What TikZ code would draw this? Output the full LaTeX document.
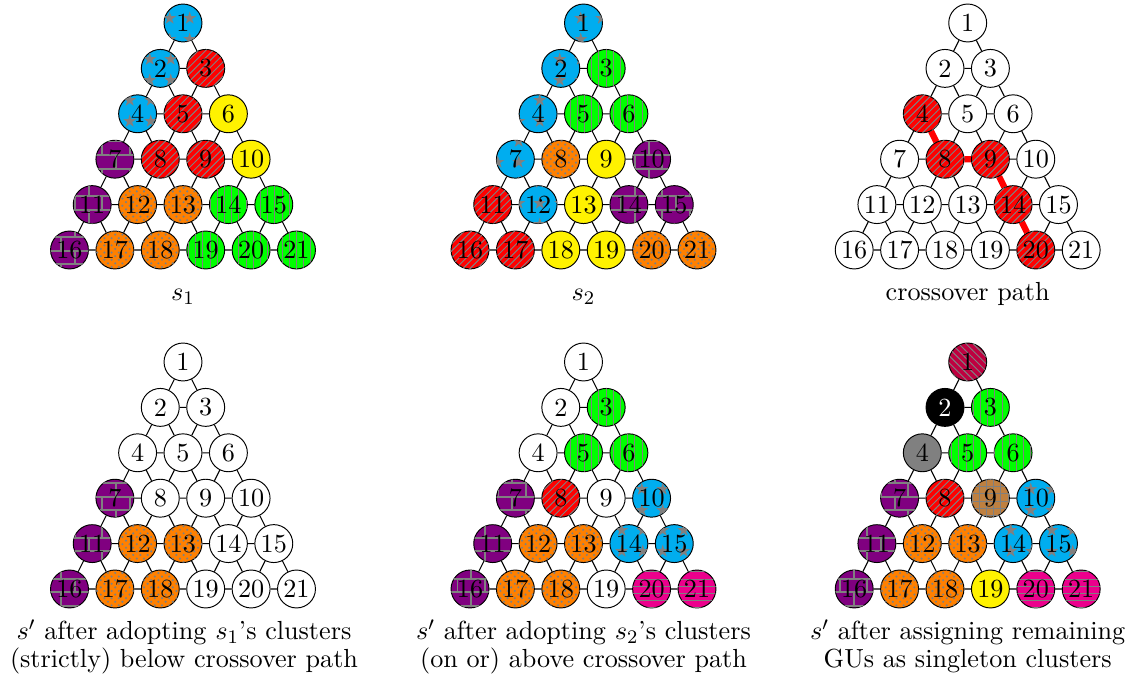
\documentclass[tikz,border=0pt]{standalone}
\usetikzlibrary{patterns,backgrounds}
\tikzset{
  gu/.style={circle, draw=black, line width=0.4pt, minimum size=15.8pt, inner sep=0pt, fill=white, font=\fontsize{10.9}{13}\selectfont},
  gedge/.style={draw=black, line width=0.45pt},
  pat/.style={postaction={pattern=#1, pattern color=gray}},
  wh/.style={fill=white},
  cy/.style={fill=cyan, pat=fivepointed stars},
  rd/.style={fill=red, pat=north east lines},
  ye/.style={fill=yellow},
  pu/.style={fill=violet, pat=bricks},
  og/.style={fill=orange, pat=crosshatch dots},
  gr/.style={fill=green, pat=vertical lines},
  mg/.style={fill=magenta, pat=horizontal lines},
  bn/.style={fill=brown, pat=grid},
  pr/.style={fill=purple, pat=north west lines},
  bk/.style={fill=black, text=white},
  gy/.style={fill=gray},
  xpath/.style={draw=red, line width=2.6pt},
  captext/.style={anchor=base, inner sep=0pt, font=\fontsize{10.9}{13}\selectfont}
}
\newcommand\trigrid[4]{%
  \foreach \st [count=\nn] in {#4} {
    \pgfmathtruncatemacro\rr{floor((sqrt(8*\nn-7)-1)/2+0.01)}
    \pgfmathsetmacro\kk{\nn-1-\rr*(\rr+1)/2}
    \node[gu,\st] (#1\nn) at ({#2+(\kk-\rr/2)*45.4},{#3+\rr*45.4}) {\nn};
  }
  \begin{scope}[on background layer]
    \foreach \r in {0,...,4}{\foreach \k in {0,...,\r}{
      \pgfmathtruncatemacro\na{\r*(\r+1)/2+\k+1}
      \pgfmathtruncatemacro\nb{\na+\r+1}
      \pgfmathtruncatemacro\nc{\na+\r+2}
      \draw[gedge] (#1\na) -- (#1\nb) (#1\na) -- (#1\nc) (#1\nb) -- (#1\nc);
    }}
  \end{scope}
}
\begin{document}
\begin{tikzpicture}[x=0.41667pt, y=-0.41667pt]
\useasboundingbox (0,0) rectangle (1133,681);
% s1
\trigrid{a}{183}{23}{cy,cy,rd,cy,rd,ye,pu,rd,rd,ye,pu,og,og,gr,gr,pu,og,og,gr,gr,gr}
% s2
\trigrid{b}{583.5}{23}{cy,cy,gr,cy,gr,gr,cy,og,ye,pu,rd,cy,ye,pu,pu,rd,rd,ye,ye,og,og}
% crossover path
\trigrid{c}{967.7}{23}{wh,wh,wh,rd,wh,wh,wh,rd,rd,wh,wh,wh,wh,rd,wh,wh,wh,wh,wh,rd,wh}
\begin{scope}[on background layer]
  \draw[xpath] (c4) -- (c8) -- (c9) -- (c14) -- (c20);
\end{scope}
% bottom row
\trigrid{d}{183}{362}{wh,wh,wh,wh,wh,wh,pu,wh,wh,wh,pu,og,og,wh,wh,pu,og,og,wh,wh,wh}
\trigrid{e}{583.5}{362}{wh,wh,gr,wh,gr,gr,pu,rd,wh,cy,pu,og,og,cy,cy,pu,og,og,wh,mg,mg}
\trigrid{f}{967.7}{362}{pr,bk,gr,gy,gr,gr,pu,rd,bn,cy,pu,og,og,cy,cy,pu,og,og,ye,mg,mg}
% captions
\node[captext] (capa) at (183,301) {$s_1$};
\node[captext] (capb) at (583.5,301) {$s_2$};
\node[captext] (capc) at (967.7,301) {crossover path};
\node[captext] (capd1) at (184,640) {$s'$ after adopting $s_1$'s clusters};
\node[captext] (capd2) at (184,668) {(strictly) below crossover path};
\node[captext] (cape1) at (583.5,640) {$s'$ after adopting $s_2$'s clusters};
\node[captext] (cape2) at (583.5,668) {(on or) above crossover path};
\node[captext] (capf1) at (967.7,640) {$s'$ after assigning remaining};
\node[captext] (capf2) at (967.7,668) {GUs as singleton clusters};
\end{tikzpicture}
\end{document}
